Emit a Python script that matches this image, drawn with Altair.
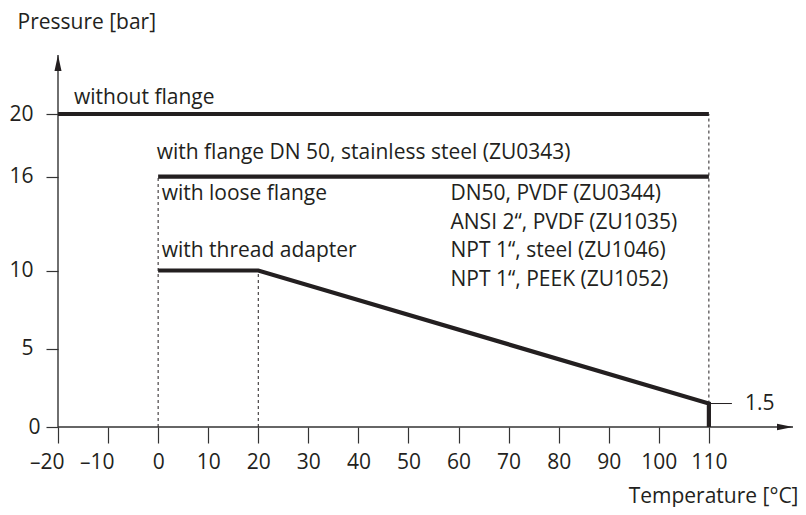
import altair as alt
import pandas as pd

# ---- data ----
x_ticks = [-20, -10, 0, 10, 20, 30, 40, 50, 60, 70, 80, 90, 100, 110]
y_ticks = [0, 5, 10, 16, 20]
X_MIN, X_MAX = -20, 126.8
Y_MIN, Y_MAX = 0, 23.77

curve_series = ["without flange"] * 2 + ["stainless"] * 2 + ["thread"] * 4
curve_x = [-20, 110, 0, 110, 0, 20, 110, 110]
curve_y = [20, 20, 16, 16, 10, 10, 1.5, 0]
curve_order = [0, 1, 0, 1, 0, 1, 2, 3]

dash_x = [0, 20, 110]
dash_y = [0, 0, 1.5]
dash_y2 = [16, 10, 20]

label_text = [
    "without flange",
    "with flange DN 50, stainless steel (ZU0343)",
    "with loose flange",
    "with thread adapter",
    "DN50, PVDF (ZU0344)",
    "ANSI 2“, PVDF (ZU1035)",
    "NPT 1“, steel (ZU1046)",
    "NPT 1“, PEEK (ZU1052)",
]
label_x = [-16.8, -0.3, 0.7, 0.7, 58.4, 58.4, 58.4, 58.4]
label_y = [20.64, 17.12, 14.5, 10.86, 14.5, 12.68, 10.86, 9.01]

end_value = 1.5
end_tick_x = [110, 114.6]
end_label_x = 117.2

INK = "#231f20"
AXIS = "#333333"
FONT = "Open Sans"
FS = 21

curves = pd.DataFrame({"series": curve_series, "x": curve_x, "y": curve_y, "o": curve_order})
dashes = pd.DataFrame({"x": dash_x, "y": dash_y, "y2": dash_y2})
labels = pd.DataFrame({"x": label_x, "y": label_y, "text": label_text})
end_tick = pd.DataFrame({"x": [end_tick_x[0]], "x2": [end_tick_x[1]], "y": [end_value]})
end_label = pd.DataFrame({"x": [end_label_x], "y": [end_value], "text": [str(end_value)]})
xaxis_line = pd.DataFrame({"x": [X_MIN], "x2": [X_MAX], "y": [Y_MIN]})
yaxis_line = pd.DataFrame({"x": [X_MIN], "y": [Y_MIN], "y2": [Y_MAX]})
x_arrow = pd.DataFrame({"x": [X_MAX], "y": [Y_MIN]})
y_arrow = pd.DataFrame({"x": [X_MIN], "y": [Y_MAX]})

x_scale = alt.Scale(domain=[X_MIN, X_MAX], nice=False, zero=False)
y_scale = alt.Scale(domain=[Y_MIN, Y_MAX], nice=False, zero=False)

x_axis = alt.Axis(
    values=x_ticks, domain=False, grid=False, tickSize=16, tickWidth=1.2, tickColor=AXIS,
    labelPadding=8, labelFont=FONT, labelFontSize=FS, labelColor=INK, labelOverlap=False,
    labelBound=False, labelFlush=False,
    labelAlign={"condition": {"test": "datum.value < 0", "value": "right"}, "value": "center"},
    labelOffset={"condition": {"test": "datum.value < 0", "value": 6}, "value": 0},
    labelExpr="datum.value < 0 ? '–' + abs(datum.value) : '' + datum.value",
    title="Temperature [°C]", titleFont=FONT, titleFontSize=FS, titleFontWeight="normal",
    titleColor=INK, titleX=740, titleY=75, titleAlign="right", titleBaseline="alphabetic",
)
y_axis = alt.Axis(
    values=y_ticks, domain=False, grid=False, tickSize=12, tickWidth=1.2, tickColor=AXIS,
    labelPadding={"condition": {"test": "datum.value == 0", "value": 6}, "value": 13},
    labelFont=FONT, labelFontSize=FS, labelColor=INK, labelBaseline="middle",
    labelOverlap=False, labelBound=False, labelFlush=False,
    title="Pressure [bar]", titleFont=FONT, titleFontSize=FS, titleFontWeight="normal",
    titleColor=INK, titleAngle=0, titleX=-41, titleY=-27, titleAlign="left",
    titleBaseline="alphabetic",
)

X = alt.X("x:Q", scale=x_scale, axis=x_axis)
Y = alt.Y("y:Q", scale=y_scale, axis=y_axis)

axis_x_rule = alt.Chart(xaxis_line).mark_rule(color=AXIS, strokeWidth=1.4).encode(
    x=X, x2="x2:Q", y=Y)
axis_y_rule = alt.Chart(yaxis_line).mark_rule(color=AXIS, strokeWidth=1.4).encode(
    x=X, y=Y, y2="y2:Q")
arrow_x = alt.Chart(x_arrow).mark_point(
    shape="M0,0L-2,-0.42L-2,0.42Z", size=256, filled=True, color=INK, opacity=1, strokeWidth=0
).encode(x=X, y=Y)
arrow_y = alt.Chart(y_arrow).mark_point(
    shape="M0,0L0.44,2L-0.44,2Z", size=256, filled=True, color=INK, opacity=1, strokeWidth=0
).encode(x=X, y=Y)

dash_rules = alt.Chart(dashes).mark_rule(color=INK, strokeWidth=1, strokeDash=[3, 3]).encode(
    x=X, y=Y, y2="y2:Q")
end_rule = alt.Chart(end_tick).mark_rule(color=INK, strokeWidth=1).encode(x=X, x2="x2:Q", y=Y)

lines = alt.Chart(curves).mark_line(color=INK, strokeWidth=4.2, strokeJoin="miter",
                                    strokeCap="butt").encode(
    x=X, y=Y, detail="series:N", order="o:Q")

texts = alt.Chart(labels).mark_text(align="left", baseline="alphabetic", font=FONT,
                                    fontSize=FS, color=INK).encode(x=X, y=Y, text="text:N")
end_text = alt.Chart(end_label).mark_text(align="left", baseline="middle", font=FONT,
                                          fontSize=FS, color=INK).encode(x=X, y=Y, text="text:N")

chart = alt.layer(
    axis_x_rule, axis_y_rule, dash_rules, end_rule, lines, arrow_x, arrow_y, texts, end_text
).properties(
    width=735, height=372,
    padding={"left": 50, "top": 47, "right": 5, "bottom": 80},
    autosize=alt.AutoSizeParams(type="none"),
    background="white",
).configure_view(stroke=None)

chart.save("out.html", embed_options={"renderer": "svg", "actions": False})
